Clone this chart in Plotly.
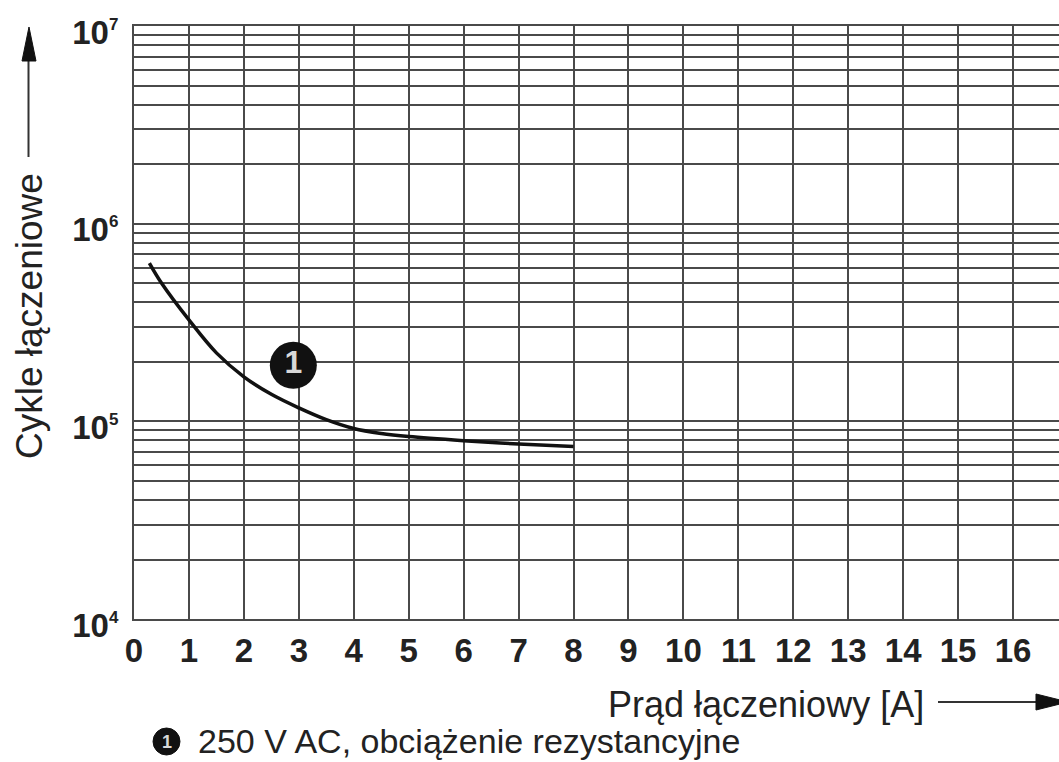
import plotly.graph_objects as go

# ---------------- data ----------------
current_a = [0.28, 0.5, 1.0, 1.5, 2.0, 2.5, 3.0, 3.5, 4.0, 4.5, 5.0, 6.0, 7.0, 8.0]
cycles = [6.32e5, 5.01e5, 3.26e5, 2.22e5, 1.68e5, 1.37e5, 1.17e5, 1.02e5,
          9.2e4, 8.68e4, 8.37e4, 7.98e4, 7.68e4, 7.45e4]

x_tick_vals = list(range(0, 17))
y_tick_vals = [1e4, 1e5, 1e6, 1e7]
y_tick_exp = ["4", "5", "6", "7"]

curve_label = "1"
label_x = [2.9]
label_y = [1.92e5]

x_title = "Prąd łączeniowy [A]"
y_title = "Cykle łączeniowe"
legend_text = "250 V AC, obciążenie rezystancyjne"

# ---------------- layout geometry ----------------
W, H = 1059, 762
L, T, B, R = 134, 26, 143, 0
PW, PH = W - L - R, H - T - B


def px(x):
    return (x - L) / PW


def py(y):
    return (H - B - y) / PH


FONT = "Liberation Sans, Arial, sans-serif"
GRID = "#4a4a4a"

y_tick_text = ["10<sup><span style='font-size:17px'>%s</span></sup>" % e for e in y_tick_exp]
minor_vals = [k * 10 ** n for n in range(4, 7) for k in range(2, 10)]

fig = go.Figure()

fig.add_trace(go.Scatter(
    x=current_a, y=cycles, mode="lines",
    line=dict(color="#111111", width=3.5, shape="spline", smoothing=1.0),
    hoverinfo="skip", showlegend=False,
))

fig.add_trace(go.Scatter(
    x=label_x, y=label_y, mode="markers+text",
    marker=dict(size=47, color="#111111"),
    text=[curve_label], textposition="middle center",
    textfont=dict(family=FONT, size=32, color="#d8d8d8", weight="bold"),
    hoverinfo="skip", showlegend=False,
))

fig.update_layout(
    width=W, height=H,
    margin=dict(l=L, r=R, t=T, b=B, pad=0),
    paper_bgcolor="white", plot_bgcolor="white",
    font=dict(family=FONT, color="#222222"),
    xaxis=dict(
        range=[0, PW / 54.94], tickmode="array", tickvals=x_tick_vals,
        showgrid=True, gridcolor=GRID, gridwidth=1.7,
        showline=True, linecolor=GRID, linewidth=2, mirror=True,
        zeroline=False, ticks="", ticklabelstandoff=1,
        tickfont=dict(family=FONT, size=33, color="#222222", weight="bold"),
    ),
    yaxis=dict(
        type="log", range=[4, 7], tickmode="array",
        tickvals=y_tick_vals, ticktext=y_tick_text,
        showgrid=True, gridcolor=GRID, gridwidth=1.7,
        showline=True, linecolor=GRID, linewidth=2,
        zeroline=False, ticks="", ticklabelstandoff=7, ticklabelshift=6,
        tickfont=dict(family=FONT, size=33, color="#222222", weight="bold"),
        minor=dict(tickmode="array", tickvals=minor_vals, showgrid=True,
                   gridcolor=GRID, gridwidth=1.5, ticks=""),
    ),
)

# axis arrows
shapes = [
    dict(type="line", xref="paper", yref="paper",
         x0=px(28.5), x1=px(28.5), y0=py(157), y1=py(58),
         line=dict(color="#333333", width=2)),
    dict(type="path", xref="paper", yref="paper",
         path="M %f %f L %f %f L %f %f Z" % (px(29), py(27), px(22), py(61), px(36), py(61)),
         fillcolor="#111111", line=dict(color="#111111", width=1)),
    dict(type="line", xref="paper", yref="paper",
         x0=px(938), x1=px(1040), y0=py(702), y1=py(702),
         line=dict(color="#333333", width=2)),
    dict(type="path", xref="paper", yref="paper",
         path="M %f %f L %f %f L %f %f Z" % (px(1068), py(702), px(1036), py(694), px(1036), py(710)),
         fillcolor="#111111", line=dict(color="#111111", width=1)),
    # legend bullet
    dict(type="circle", xref="paper", yref="paper",
         x0=px(153), x1=px(180), y0=py(728), y1=py(755),
         fillcolor="#111111", line=dict(color="#111111", width=1)),
]
fig.update_layout(shapes=shapes)

annotations = [
    dict(text=x_title, xref="paper", yref="paper", x=px(926), y=py(704),
         xanchor="right", yanchor="middle", showarrow=False,
         font=dict(family=FONT, size=36, color="#222222")),
    dict(text=y_title, xref="paper", yref="paper", x=px(29), y=py(316),
         xanchor="center", yanchor="middle", showarrow=False, textangle=-90,
         font=dict(family=FONT, size=37, color="#222222")),
    dict(text="1", xref="paper", yref="paper", x=px(166.5), y=py(741.5),
         xanchor="center", yanchor="middle", showarrow=False,
         font=dict(family=FONT, size=18, color="#d8d8d8", weight="bold")),
    dict(text=legend_text, xref="paper", yref="paper", x=px(196), y=py(741),
         xanchor="left", yanchor="middle", showarrow=False,
         font=dict(family=FONT, size=34, color="#222222")),
]
fig.update_layout(annotations=annotations)

fig.write_html("out.html")
